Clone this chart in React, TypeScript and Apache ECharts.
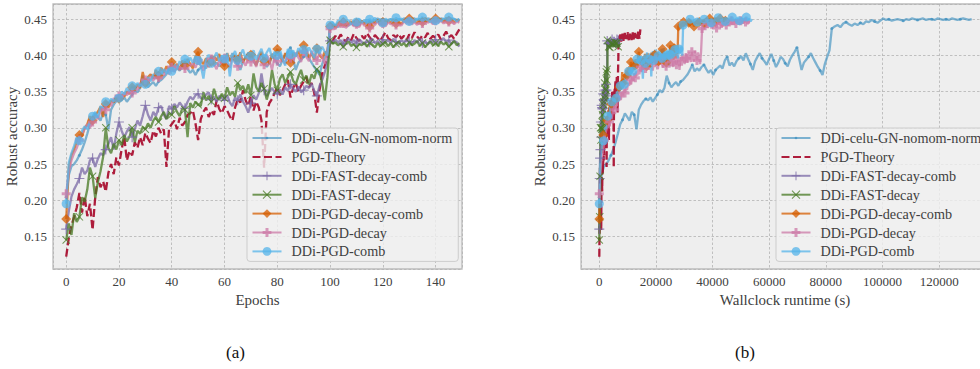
import React, { useEffect, useRef } from "react";
import * as echarts from "echarts";

// ---------- data ----------
const seriesNames = [
  "DDi-celu-GN-nomom-norm",
  "PGD-Theory",
  "DDi-FAST-decay-comb",
  "DDi-FAST-decay",
  "DDi-PGD-decay-comb",
  "DDi-PGD-decay",
  "DDi-PGD-comb",
];

// robust accuracy per epoch (0..149)
const celuAcc = [
  0.204, 0.235, 0.247, 0.250, 0.255, 0.262, 0.270, 0.280, 0.292, 0.305,
  0.311, 0.320, 0.315, 0.310, 0.322, 0.318, 0.298, 0.325, 0.332, 0.337,
  0.340, 0.338, 0.342, 0.336, 0.341, 0.346, 0.352, 0.349, 0.355, 0.372,
  0.362, 0.356, 0.360, 0.363, 0.358, 0.364, 0.366, 0.370, 0.374, 0.380,
  0.387, 0.378, 0.382, 0.379, 0.384, 0.387, 0.381, 0.376, 0.380, 0.373,
  0.380, 0.383, 0.386, 0.382, 0.393, 0.398, 0.386, 0.390, 0.385, 0.392,
  0.396, 0.399, 0.393, 0.403, 0.395, 0.388, 0.380, 0.392, 0.398, 0.403,
  0.396, 0.392, 0.387, 0.395, 0.402, 0.393, 0.384, 0.390, 0.398, 0.395,
  0.389, 0.385, 0.394, 0.400, 0.405, 0.411, 0.395, 0.380, 0.390, 0.394,
  0.398, 0.403, 0.396, 0.390, 0.384, 0.379, 0.373, 0.388, 0.398, 0.407,
  0.437, 0.440, 0.442, 0.439, 0.444, 0.446, 0.443, 0.441, 0.444, 0.442,
  0.445, 0.443, 0.447, 0.446, 0.449, 0.447, 0.445, 0.448, 0.451, 0.449,
  0.450, 0.448, 0.449, 0.450, 0.449, 0.448, 0.450, 0.449, 0.451, 0.450,
  0.449, 0.450, 0.451, 0.449, 0.450, 0.450, 0.449, 0.451, 0.450, 0.449,
  0.450, 0.449, 0.451, 0.450, 0.449, 0.450, 0.451, 0.450, 0.449, 0.450,
];

const pgdTheoryAcc = [
  0.122, 0.148, 0.165, 0.177, 0.190, 0.210, 0.183, 0.205, 0.178, 0.195,
  0.159, 0.204, 0.232, 0.218, 0.226, 0.212, 0.238, 0.250, 0.236, 0.259,
  0.248, 0.270, 0.287, 0.255, 0.268, 0.262, 0.280, 0.272, 0.287, 0.276,
  0.293, 0.285, 0.279, 0.296, 0.288, 0.300, 0.292, 0.298, 0.246, 0.300,
  0.305, 0.310, 0.298, 0.314, 0.303, 0.308, 0.318, 0.320, 0.324, 0.306,
  0.283, 0.312, 0.322, 0.328, 0.315, 0.324, 0.318, 0.338, 0.326, 0.320,
  0.330, 0.324, 0.316, 0.310, 0.328, 0.340, 0.335, 0.352, 0.338, 0.330,
  0.344, 0.324, 0.336, 0.328, 0.310, 0.245, 0.322, 0.334, 0.340, 0.348,
  0.356, 0.345, 0.352, 0.360, 0.366, 0.342, 0.355, 0.362, 0.350, 0.358,
  0.364, 0.370, 0.356, 0.362, 0.348, 0.321, 0.352, 0.375, 0.386, 0.397,
  0.424, 0.420, 0.427, 0.422, 0.429, 0.423, 0.419, 0.426, 0.421, 0.430,
  0.424, 0.420, 0.427, 0.423, 0.431, 0.425, 0.421, 0.428, 0.424, 0.420,
  0.426, 0.432, 0.424, 0.421, 0.428, 0.425, 0.430, 0.423, 0.427, 0.421,
  0.429, 0.424, 0.432, 0.426, 0.422, 0.428, 0.425, 0.431, 0.423, 0.427,
  0.424, 0.429, 0.422, 0.427, 0.433, 0.425, 0.428, 0.423, 0.430, 0.436,
];

const fastDecayCombAcc = [
  0.160, 0.185, 0.205, 0.215, 0.222, 0.230, 0.245, 0.236, 0.241, 0.255,
  0.258, 0.246, 0.257, 0.265, 0.262, 0.270, 0.278, 0.287, 0.270, 0.292,
  0.308, 0.296, 0.287, 0.295, 0.301, 0.287, 0.298, 0.310, 0.303, 0.316,
  0.331, 0.318, 0.310, 0.322, 0.316, 0.328, 0.330, 0.318, 0.312, 0.330,
  0.326, 0.333, 0.328, 0.335, 0.330, 0.327, 0.336, 0.343, 0.339, 0.345,
  0.347, 0.341, 0.340, 0.346, 0.349, 0.339, 0.343, 0.336, 0.344, 0.341,
  0.338, 0.345, 0.335, 0.330, 0.342, 0.338, 0.346, 0.336, 0.330, 0.321,
  0.334, 0.345, 0.339, 0.348, 0.375, 0.352, 0.344, 0.350, 0.355, 0.349,
  0.347, 0.353, 0.346, 0.356, 0.351, 0.360, 0.354, 0.350, 0.357, 0.349,
  0.352, 0.358, 0.355, 0.361, 0.351, 0.344, 0.358, 0.366, 0.377, 0.390,
  0.420, 0.417, 0.422, 0.418, 0.421, 0.416, 0.420, 0.423, 0.418, 0.421,
  0.417, 0.422, 0.419, 0.415, 0.421, 0.418, 0.423, 0.417, 0.420, 0.416,
  0.422, 0.418, 0.421, 0.417, 0.423, 0.419, 0.416, 0.421, 0.418, 0.422,
  0.419, 0.416, 0.421, 0.418, 0.423, 0.417, 0.420, 0.415, 0.421, 0.418,
  0.422, 0.417, 0.420, 0.424, 0.418, 0.421, 0.416, 0.420, 0.418, 0.412,
];

const fastDecayAcc = [
  0.145, 0.168, 0.152, 0.182, 0.170, 0.177, 0.204, 0.198, 0.215, 0.245,
  0.233, 0.203, 0.225, 0.240, 0.260, 0.300, 0.272, 0.265, 0.278, 0.270,
  0.283, 0.276, 0.290, 0.281, 0.288, 0.300, 0.280, 0.296, 0.292, 0.301,
  0.298, 0.306, 0.300, 0.310, 0.315, 0.308, 0.316, 0.322, 0.312, 0.320,
  0.318, 0.330, 0.322, 0.316, 0.327, 0.325, 0.287, 0.334, 0.328, 0.336,
  0.332, 0.330, 0.349, 0.338, 0.344, 0.336, 0.354, 0.342, 0.339, 0.347,
  0.341, 0.356, 0.345, 0.350, 0.343, 0.362, 0.352, 0.358, 0.348, 0.360,
  0.345, 0.375, 0.356, 0.350, 0.362, 0.354, 0.339, 0.352, 0.380, 0.360,
  0.352, 0.368, 0.374, 0.362, 0.370, 0.377, 0.365, 0.360, 0.371, 0.380,
  0.366, 0.372, 0.360, 0.374, 0.368, 0.381, 0.376, 0.362, 0.338, 0.370,
  0.421, 0.416, 0.418, 0.414, 0.417, 0.412, 0.416, 0.419, 0.413, 0.416,
  0.411, 0.416, 0.414, 0.418, 0.412, 0.417, 0.415, 0.411, 0.417, 0.413,
  0.416, 0.418, 0.413, 0.417, 0.411, 0.416, 0.419, 0.414, 0.417, 0.412,
  0.418, 0.414, 0.416, 0.420, 0.413, 0.417, 0.411, 0.416, 0.419, 0.414,
  0.417, 0.413, 0.419, 0.415, 0.418, 0.412, 0.416, 0.420, 0.414, 0.417,
];

const pgdDecayCombAcc = [
  0.174, 0.245, 0.262, 0.270, 0.281, 0.290, 0.288, 0.300, 0.305, 0.316,
  0.310, 0.318, 0.322, 0.329, 0.315, 0.333, 0.328, 0.338, 0.335, 0.342,
  0.340, 0.346, 0.343, 0.350, 0.347, 0.356, 0.352, 0.360, 0.355, 0.377,
  0.362, 0.370, 0.374, 0.368, 0.380, 0.372, 0.383, 0.376, 0.385, 0.379,
  0.391, 0.384, 0.388, 0.380, 0.393, 0.386, 0.395, 0.388, 0.382, 0.398,
  0.405, 0.392, 0.388, 0.396, 0.384, 0.391, 0.399, 0.393, 0.402, 0.389,
  0.385, 0.403, 0.392, 0.397, 0.400, 0.394, 0.404, 0.390, 0.398, 0.393,
  0.401, 0.395, 0.386, 0.399, 0.405, 0.392, 0.397, 0.388, 0.402, 0.396,
  0.409, 0.398, 0.392, 0.403, 0.396, 0.390, 0.404, 0.399, 0.406, 0.395,
  0.414, 0.407, 0.397, 0.403, 0.394, 0.410, 0.400, 0.396, 0.405, 0.402,
  0.440, 0.443, 0.438, 0.445, 0.441, 0.446, 0.440, 0.444, 0.447, 0.442,
  0.445, 0.441, 0.448, 0.443, 0.446, 0.440, 0.447, 0.444, 0.449, 0.443,
  0.446, 0.442, 0.448, 0.445, 0.450, 0.444, 0.447, 0.443, 0.449, 0.446,
  0.451, 0.445, 0.448, 0.444, 0.450, 0.446, 0.452, 0.447, 0.449, 0.445,
  0.451, 0.447, 0.450, 0.446, 0.452, 0.448, 0.450, 0.445, 0.449, 0.447,
];

const pgdDecayAcc = [
  0.209, 0.240, 0.255, 0.265, 0.272, 0.283, 0.292, 0.298, 0.305, 0.300,
  0.308, 0.318, 0.312, 0.322, 0.330, 0.325, 0.336, 0.330, 0.341, 0.337,
  0.344, 0.339, 0.349, 0.345, 0.353, 0.348, 0.357, 0.352, 0.362, 0.358,
  0.366, 0.360, 0.371, 0.365, 0.375, 0.369, 0.378, 0.372, 0.381, 0.374,
  0.384, 0.377, 0.387, 0.380, 0.389, 0.382, 0.392, 0.385, 0.390, 0.383,
  0.393, 0.386, 0.379, 0.391, 0.384, 0.395, 0.388, 0.381, 0.394, 0.387,
  0.396, 0.389, 0.383, 0.397, 0.390, 0.385, 0.399, 0.392, 0.386, 0.398,
  0.391, 0.395, 0.384, 0.400, 0.393, 0.387, 0.401, 0.394, 0.380, 0.398,
  0.392, 0.402, 0.395, 0.388, 0.403, 0.396, 0.390, 0.404, 0.397, 0.391,
  0.405, 0.398, 0.392, 0.406, 0.399, 0.393, 0.404, 0.398, 0.388, 0.405,
  0.437, 0.441, 0.436, 0.443, 0.439, 0.444, 0.438, 0.442, 0.445, 0.440,
  0.443, 0.439, 0.446, 0.441, 0.444, 0.438, 0.445, 0.442, 0.447, 0.441,
  0.444, 0.440, 0.446, 0.443, 0.447, 0.442, 0.445, 0.441, 0.447, 0.444,
  0.448, 0.443, 0.446, 0.442, 0.448, 0.444, 0.449, 0.445, 0.447, 0.443,
  0.448, 0.445, 0.448, 0.444, 0.449, 0.446, 0.448, 0.443, 0.447, 0.445,
];

const pgdCombAcc = [
  0.195, 0.252, 0.265, 0.275, 0.287, 0.282, 0.296, 0.302, 0.298, 0.310,
  0.316, 0.322, 0.314, 0.330, 0.327, 0.336, 0.332, 0.340, 0.336, 0.345,
  0.341, 0.350, 0.346, 0.355, 0.349, 0.358, 0.353, 0.362, 0.357, 0.366,
  0.360, 0.370, 0.364, 0.374, 0.368, 0.378, 0.371, 0.381, 0.375, 0.384,
  0.378, 0.388, 0.381, 0.392, 0.385, 0.395, 0.388, 0.397, 0.390, 0.399,
  0.393, 0.386, 0.368, 0.394, 0.401, 0.389, 0.397, 0.404, 0.392, 0.400,
  0.395, 0.403, 0.371, 0.398, 0.406, 0.393, 0.401, 0.408, 0.396, 0.404,
  0.399, 0.407, 0.394, 0.402, 0.409, 0.396, 0.404, 0.410, 0.397, 0.405,
  0.400, 0.408, 0.395, 0.386, 0.409, 0.401, 0.407, 0.398, 0.410, 0.403,
  0.408, 0.399, 0.411, 0.404, 0.396, 0.409, 0.402, 0.412, 0.405, 0.400,
  0.442, 0.446, 0.441, 0.448, 0.444, 0.450, 0.445, 0.449, 0.443, 0.448,
  0.446, 0.451, 0.445, 0.449, 0.444, 0.450, 0.447, 0.452, 0.446, 0.450,
  0.445, 0.451, 0.447, 0.450, 0.446, 0.452, 0.448, 0.451, 0.446, 0.450,
  0.447, 0.452, 0.446, 0.451, 0.448, 0.453, 0.447, 0.450, 0.446, 0.451,
  0.448, 0.452, 0.447, 0.451, 0.449, 0.453, 0.448, 0.451, 0.447, 0.450,
];

const accuracies = [
  celuAcc, pgdTheoryAcc, fastDecayCombAcc, fastDecayAcc,
  pgdDecayCombAcc, pgdDecayAcc, pgdCombAcc,
];

// wallclock runtime (s): at the LR decay (epoch 100) and at the last epoch
const decayEpoch = 100;
const runtimeAtDecay = [82100, 6800, 2800, 2900, 27900, 36300, 29600];
const runtimeFinal = [131500, 14500, 7000, 7000, 46000, 53000, 53900];

// axis tick labels
const epochTicks = [0, 20, 40, 60, 80, 100, 120, 140];
const accTicks = [0.15, 0.2, 0.25, 0.3, 0.35, 0.4, 0.45];
const runtimeTicks = [0, 20000, 40000, 60000, 80000, 100000, 120000];

// ---------- styles ----------
const colors = ["#348ABD", "#A60628", "#7A68A6", "#467821", "#D55E00", "#CC79A7", "#56B4E9"];
const DOT = "path://M0,0M10,10M3.5,5A1.5,1.5,0,1,0,6.5,5A1.5,1.5,0,1,0,3.5,5Z";
const PLUS = "path://M-0.12,-1H0.12V-0.12H1V0.12H0.12V1H-0.12V0.12H-1V-0.12H-0.12Z";
const XMARK = "path://M-1,-0.82L-0.82,-1L0,-0.18L0.82,-1L1,-0.82L0.18,0L1,0.82L0.82,1L0,0.18L-0.82,1L-1,0.82L-0.18,0Z";
const PFILL = "path://M-0.34,-1H0.34V-0.34H1V0.34H0.34V1H-0.34V0.34H-1V-0.34H-0.34Z";
const symbols = [DOT, "none", PLUS, XMARK, "diamond", PFILL, "circle"];
const symbolSizes = [10, 0, 10, 8, 10, 9, 9];
const opacities = [0.62, 0.9, 0.75, 0.75, 0.75, 0.75, 0.75];
const FONT = "'Liberation Serif', 'Times New Roman', serif";
const TEXT = "#404040";

function runtimeOf(k: number, i: number): number {
  const perBefore = runtimeAtDecay[k] / decayEpoch;
  const last = accuracies[k].length - 1;
  const perAfter = (runtimeFinal[k] - runtimeAtDecay[k]) / (last - decayEpoch);
  return i <= decayEpoch ? i * perBefore : runtimeAtDecay[k] + (i - decayEpoch) * perAfter;
}

function buildSeries(grid: number) {
  return seriesNames.map((name, k) => ({
    type: "line",
    name,
    xAxisIndex: grid,
    yAxisIndex: grid,
    symbol: symbols[k],
    symbolSize: symbolSizes[k],
    showSymbol: true,
    showAllSymbol: true,
    silent: true,
    emphasis: { disabled: true },
    lineStyle: {
      color: colors[k],
      width: 2.3,
      opacity: opacities[k],
      type: k === 1 ? [8, 3.5] : "solid",
    },
    itemStyle: { color: colors[k], opacity: opacities[k] },
    data: accuracies[k].map((v, i) => {
      const x = grid === 0 ? i : runtimeOf(k, i);
      return i % 5 === 0 ? { value: [x, v] } : { value: [x, v], symbol: "none" };
    }),
  }));
}

function axisLabel(fmt: (v: number) => string, ticks: number[]) {
  return {
    color: TEXT,
    fontFamily: FONT,
    fontSize: 13,
    margin: 6,
    showMinLabel: false,
    showMaxLabel: false,
    formatter: (v: number) => (ticks.some((t) => Math.abs(t - v) < 1e-9) ? fmt(v) : ""),
  };
}

const splitLine = { show: true, lineStyle: { color: "#b2b2b2", width: 0.8, type: [2.5, 2] } };

function xAxis(grid: number) {
  const isEpoch = grid === 0;
  return {
    type: "value",
    gridIndex: grid,
    min: isEpoch ? -5 : -6460,
    max: isEpoch ? 150 : 137600,
    splitNumber: isEpoch ? 8 : 7,
    name: isEpoch ? "Epochs" : "Wallclock runtime (s)",
    nameLocation: "middle",
    nameGap: 20,
    nameTextStyle: { color: TEXT, fontFamily: FONT, fontSize: 15 },
    axisLine: { show: false },
    axisTick: { show: false },
    axisLabel: axisLabel((v) => String(v), isEpoch ? epochTicks : runtimeTicks),
    splitLine,
  };
}

function yAxis(grid: number) {
  return {
    type: "value",
    gridIndex: grid,
    min: 0.105,
    max: 0.471,
    splitNumber: 7,
    name: "Robust accuracy",
    nameLocation: "middle",
    nameGap: 34,
    nameTextStyle: { color: TEXT, fontFamily: FONT, fontSize: 15 },
    axisLine: { show: false },
    axisTick: { show: false },
    axisLabel: axisLabel((v) => v.toFixed(2), accTicks),
    splitLine,
  };
}

function legend(left: number) {
  return {
    left,
    top: 128,
    orient: "vertical",
    itemWidth: 29,
    itemHeight: 11,
    itemGap: 4.9,
    padding: [3, 6, 3, 4.5],
    backgroundColor: "rgba(240,240,240,0.8)",
    borderColor: "#cccccc",
    borderWidth: 1,
    borderRadius: 3,
    selectedMode: false,
    textStyle: { color: TEXT, fontFamily: FONT, fontSize: 14.2, lineHeight: 14, padding: [0, 0, 0, 5] },
    data: seriesNames.map((name, k) =>
      k === 1 ? { name, itemStyle: { opacity: 0 } } : { name }
    ),
  };
}

export default function App() {
  const ref = useRef<HTMLDivElement>(null);
  useEffect(() => {
    if (!ref.current) return;
    const chart = echarts.init(ref.current, undefined, { renderer: "svg" });
    const gridBase = {
      show: true,
      backgroundColor: "#eeeeee",
      borderColor: "#bcbcbc",
      borderWidth: 1.3,
      containLabel: false,
      outerBoundsMode: "none",
    };
    chart.setOption({
      animation: false,
      backgroundColor: "#ffffff",
      grid: [
        { ...gridBase, left: 53, top: 4, width: 409, height: 265 },
        { ...gridBase, left: 581, top: 4, width: 408, height: 265 },
      ],
      xAxis: [xAxis(0), xAxis(1)],
      yAxis: [yAxis(0), yAxis(1)],
      legend: [legend(247), legend(776)],
      series: [...buildSeries(0), ...buildSeries(1)],
      graphic: [
        { type: "text", left: 226, top: 344, style: { text: "(a)", fontFamily: FONT, fontSize: 17, fill: "#111" } },
        { type: "text", left: 735, top: 344, style: { text: "(b)", fontFamily: FONT, fontSize: 17, fill: "#111" } },
      ],
    });
    return () => chart.dispose();
  }, []);
  return (
    <div
      ref={ref}
      style={{ position: "absolute", left: 0, top: 0, width: 980, height: 369 }}
    />
  );
}
